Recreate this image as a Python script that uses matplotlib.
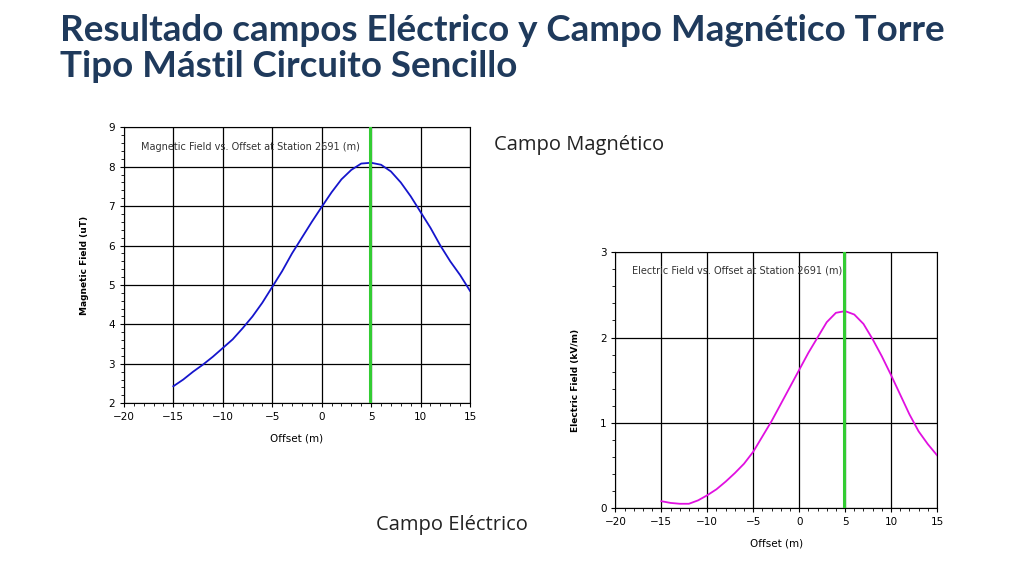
import matplotlib
matplotlib.use("Agg")
import matplotlib.pyplot as plt
import numpy as np

offset = list(range(-15, 16))
mag_field = [2.43, 2.6, 2.8, 2.98, 3.18, 3.4, 3.62, 3.9, 4.2, 4.55, 4.95, 5.35, 5.8, 6.2, 6.6, 6.98,
             7.35, 7.68, 7.92, 8.08, 8.1, 8.05, 7.88, 7.6, 7.25, 6.85, 6.45, 6.0, 5.6, 5.25, 4.85]
elec_field = [0.08, 0.06, 0.05, 0.05, 0.09, 0.15, 0.22, 0.31, 0.41, 0.52, 0.66, 0.84, 1.02, 1.22, 1.42, 1.62,
              1.82, 2.0, 2.18, 2.29, 2.31, 2.27, 2.16, 1.98, 1.78, 1.56, 1.33, 1.1, 0.9, 0.75, 0.62]
x_ticks = [-20, -15, -10, -5, 0, 5, 10, 15]

fig = plt.figure(figsize=(10.24, 5.76), dpi=100)
fig.text(0.059, 0.975, "Resultado campos Eléctrico y Campo Magnético Torre\nTipo Mástil Circuito Sencillo",
         ha="left", va="top", fontsize=26.5, fontweight="bold", color="#1F3A5C", family="Lato", linespacing=1.1)

def panel(rect, y, color, ylim, yticks, ylabel, title):
    ax = fig.add_axes(rect)
    ax.plot(offset, y, color=color, lw=1.3, zorder=3)
    ax.axvline(4.9, color="#33CC33", lw=2.2, zorder=4)
    ax.set_xlim(-20, 15)
    ax.set_ylim(*ylim)
    ax.set_xticks(x_ticks)
    ax.set_yticks(yticks)
    ax.set_xticks(np.arange(-20, 15.1, 1), minor=True)
    ax.set_yticks(np.arange(ylim[0], ylim[1] + 0.01, (yticks[1] - yticks[0]) / 5), minor=True)
    ax.grid(True, which="major", color="black", lw=0.9)
    ax.tick_params(labelsize=7.5, length=3, width=0.8)
    ax.tick_params(which="minor", length=2)
    for s in ax.spines.values():
        s.set_linewidth(0.8)
    ax.set_xlabel("Offset (m)", fontsize=7.5, labelpad=8)
    ax.set_ylabel(ylabel, fontsize=6.5, fontweight="bold", labelpad=14)
    ax.text(0.05, 0.93, title, transform=ax.transAxes, fontsize=7, color="#333333", va="center")
    return ax

panel([0.121, 0.300, 0.338, 0.479], mag_field, "#1515CC", (2, 9), list(range(2, 10)),
      "Magnetic Field (uT)", "Magnetic Field vs. Offset at Station 2691 (m)")
panel([0.601, 0.118, 0.314, 0.444], elec_field, "#E010E0", (0, 3), [0, 1, 2, 3],
      "Electric Field (kV/m)", "Electric Field vs. Offset at Station 2691 (m)")

fig.text(0.482, 0.74, "Campo Magnético", fontsize=14.5, color="#222222", family="Open Sans")
fig.text(0.367, 0.08, "Campo Eléctrico", fontsize=14.5, color="#222222", family="Open Sans")

fig.savefig("out.png", dpi=100)
